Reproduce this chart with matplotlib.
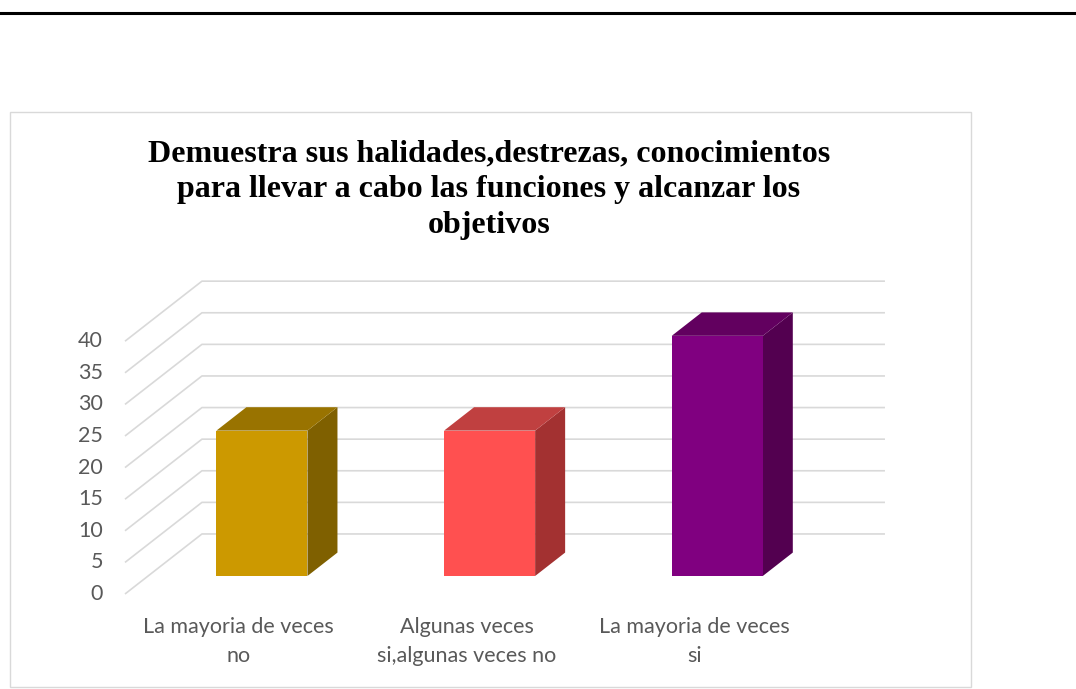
"""
Excel-style 3D column chart drawn with an oblique projection
"""

import matplotlib.pyplot as plt
from matplotlib.patches import Polygon, Rectangle

# Data
categories = ['La mayoria de veces\nno',
              'Algunas veces\nsi,algunas veces no',
              'La mayoria de veces\nsi']
values = [23, 23, 38]
yticks = [0, 5, 10, 15, 20, 25, 30, 35, 40]

title = ('Demuestra sus halidades,destrezas, conocimientos\n'
         'para llevar a cabo las funciones y alcanzar los\n'
         'objetivos')

# colours: front, side, top
front_cols = ['#CC9900', '#FF5050', '#800080']
side_cols = ['#7F6000', '#A33131', '#530050']
top_cols = ['#997300', '#C04040', '#62005F']

# Projection settings (depth vector in data units)
DX = 0.338   # depth shift in category units
DY = 9.5     # depth shift in value units
t0, t1 = 0.30, 0.69   # front / back of bars as fraction of depth
bar_w = 0.40

fig = plt.figure(figsize=(10.76, 6.89), dpi=100)
ax = fig.add_axes([0, 0, 1, 1])
# map data to pixels: x_px = 125 + 227.67*x, y_px = 594 - 6.32*y
ax.set_xlim(-125 / 227.67, (1076 - 125) / 227.67)
ax.set_ylim((594 - 689) / 6.32, 594 / 6.32)
ax.axis('off')

# Top black rule and chart border
fig.add_artist(plt.Line2D([0, 1], [1 - 13 / 689, 1 - 13 / 689],
                          color='black', lw=2.2, transform=fig.transFigure))
fig.add_artist(Rectangle((10 / 1076, 1 - 687 / 689), 961 / 1076, 575 / 689,
                         transform=fig.transFigure, fill=False,
                         edgecolor='#D9D9D9', lw=1))

# Gridlines: side wall diagonal + back wall horizontal
n = len(categories)
for v in yticks:
    ax.plot([0, DX, n + DX], [v, v + DY, v + DY],
            color='#D9D9D9', lw=1.2, zorder=1, solid_capstyle='butt')
    ax.text(-0.0966, v, str(v), ha='right', va='center',
            fontsize=15.5, color='#595959', family='Lato')

# Bars
for i, v in enumerate(values):
    x0 = i + 0.5 - bar_w / 2 + t0 * DX
    x1 = x0 + bar_w
    y0 = t0 * DY
    ddx = (t1 - t0) * DX
    ddy = (t1 - t0) * DY
    top = [(x0, y0 + v), (x1, y0 + v), (x1 + ddx, y0 + v + ddy), (x0 + ddx, y0 + v + ddy)]
    side = [(x1, y0), (x1 + ddx, y0 + ddy), (x1 + ddx, y0 + v + ddy), (x1, y0 + v)]
    ax.add_patch(Polygon(side, closed=True, facecolor=side_cols[i], edgecolor='none', zorder=3))
    ax.add_patch(Polygon(top, closed=True, facecolor=top_cols[i], edgecolor='none', zorder=3))
    ax.add_patch(Rectangle((x0, y0), bar_w, v, facecolor=front_cols[i], edgecolor='none', zorder=4))

# Category labels
for i, lab in enumerate(categories):
    ax.text(i + 0.5, -3.6, lab, ha='center', va='top', fontsize=15.5,
            color='#595959', family='Lato', linespacing=1.58)

# Title
fig.text(489 / 1076, 1 - 190 / 689, title, ha='center', va='center',
         fontsize=23, fontweight='bold', family='Liberation Serif',
         linespacing=1.3)

fig.savefig('out.png', dpi=100)
